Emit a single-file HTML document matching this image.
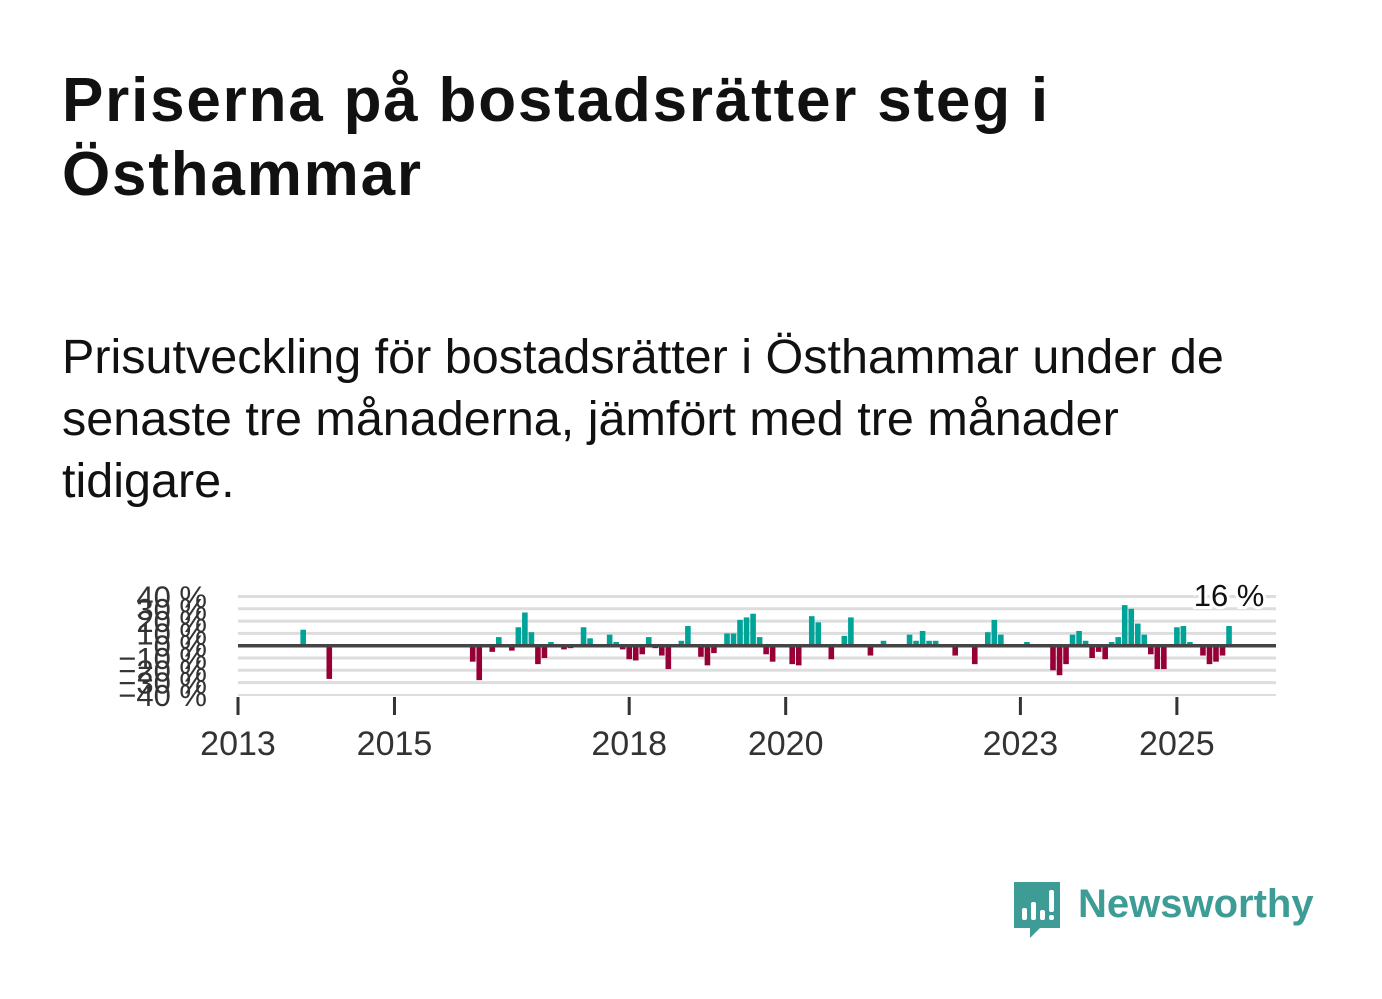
<!DOCTYPE html>
<html><head><meta charset="utf-8">
<style>
html,body{margin:0;padding:0;background:#fff;width:1382px;height:999px;overflow:hidden}
.t{position:absolute;left:62px;top:64px;font:bold 62px "Liberation Sans",sans-serif;letter-spacing:1.8px;color:#111;line-height:74px;margin:0;width:1300px}
.s{position:absolute;left:62px;top:326px;font:48.5px "Liberation Sans",sans-serif;color:#111;line-height:62px;margin:0;width:1320px}
svg{position:absolute;left:0;top:0}
</style></head><body>
<h1 class="t">Priserna på bostadsrätter steg i<br>Östhammar</h1>
<p class="s">Prisutveckling för bostadsrätter i Östhammar under de<br>senaste tre månaderna, jämfört med tre månader<br>tidigare.</p>
<svg id="c" width="1382" height="999"></svg>
<div style="position:absolute;left:1012px;top:880px;width:320px;height:60px">
<svg width="50" height="60" style="left:0;top:0">
<path d="M2 2h46v46H28l-10 10v-10H2z" fill="#3d9c95"/>
<rect x="10" y="28" width="5" height="12" rx="2" fill="#fff"/><rect x="19" y="22" width="5" height="18" rx="2" fill="#fff"/><rect x="28" y="30" width="5" height="10" rx="2" fill="#fff"/><rect x="37" y="10" width="5" height="22" rx="2" fill="#fff"/><rect x="37" y="35" width="5" height="5" rx="2" fill="#fff"/>
</svg>
<span style="position:absolute;left:66px;top:2px;font:bold 40px 'Liberation Sans',sans-serif;color:#3d9c95">Newsworthy</span>
</div>
<script>
const months=[10,14,36,37,39,40,42,43,44,45,46,47,48,50,51,53,54,57,58,59,60,61,62,63,64,65,66,68,69,71,72,73,75,76,77,78,79,80,81,82,85,86,88,89,91,93,94,97,99,103,104,105,106,107,110,113,115,116,117,121,125,126,127,128,129,130,131,132,133,134,135,136,137,138,139,140,141,142,144,145,146,148,149,150,151,152];
const values=[13,-27,-13,-28,-5,7,-4,15,27,11,-15,-10,3,-3,-2,15,6,9,3,-3,-11,-12,-7,7,-2,-8,-19,4,16,-9,-16,-6,10,10,21,23,26,7,-7,-13,-15,-16,24,19,-11,8,23,-8,4,9,4,12,4,4,-8,-15,11,21,9,3,-20,-24,-15,9,12,4,-10,-5,-11,3,7,33,30,18,9,-7,-19,-19,15,16,3,-8,-15,-13,-8,16];
const yTicks=[40,30,20,10,0,-10,-20,-30,-40];
const xYears=[2013,2015,2018,2020,2023,2025];
const lastLabel="16 %";
const NS="http://www.w3.org/2000/svg",svg=document.getElementById('c');
const X0=238,PM=6.52,Y0=645.7,PY=1.23;
const x=m=>X0+PM*m, y=v=>Y0-PY*v;
function mk(t,a){const e=document.createElementNS(NS,t);for(const k in a)e.setAttribute(k,a[k]);svg.appendChild(e);return e;}
yTicks.forEach(v=>{
 if(v!==-40&&v!==0){const g=mk('line',{x1:238,x2:1276,y1:y(v),y2:y(v),stroke:'#ddd','stroke-width':3});
 
 }
 const t=mk('text',{x:207,y:y(v)+11,'text-anchor':'end','font-size':31,'font-family':'Liberation Sans, sans-serif',fill:'#333'});
 t.textContent=(v<0?'−'+(-v):v)+' %';
 
 
});
const ax=mk('line',{x1:238,x2:1276,y1:695,y2:695,stroke:'#ddd','stroke-width':2});


months.forEach((m,i)=>{
 const v=values[i];const r=mk('rect',{x:x(m)-2.8,width:5.6,y:Math.min(y(v),Y0),height:Math.abs(y(v)-Y0),fill:v>=0?'#00a398':'#960036'});
 
 
});
const z=mk('line',{x1:238,x2:1276,y1:Y0,y2:Y0,stroke:'#444','stroke-width':3.5});


xYears.forEach(yr=>{
 const xx=x((yr-2013)*12);
 const tk=mk('line',{x1:xx,x2:xx,y1:697,y2:715,stroke:'#333','stroke-width':3});
 
 
 const t=mk('text',{x:xx,y:755,'text-anchor':'middle','font-size':34,'font-family':'Liberation Sans, sans-serif',fill:'#333'});
 t.textContent=yr;
 
 
});
const lm=months[months.length-1];
const lb=mk('text',{x:x(lm),y:606,'text-anchor':'middle','font-size':31,'font-family':'Liberation Sans, sans-serif',fill:'#111',stroke:'#fff','stroke-width':6,'paint-order':'stroke'});
lb.textContent=lastLabel;


</script>
</body></html>
